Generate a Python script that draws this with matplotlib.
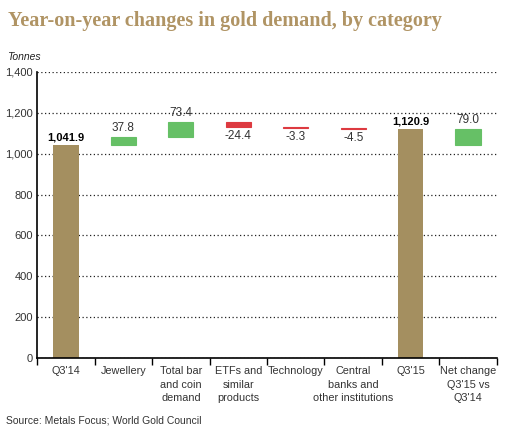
import numpy as np
import matplotlib
matplotlib.use('Agg')
import matplotlib.pyplot as plt

plt.rcParams['font.family'] = ['Liberation Sans', 'DejaVu Sans']

categories = ["Q3'14", "Jewellery", "Total bar\nand coin\ndemand", "ETFs and\nsimilar\nproducts",
              "Technology", "Central\nbanks and\nother institutions", "Q3'15",
              "Net change\nQ3'15 vs\nQ3'14"]
start_total = 1041.9
changes = [37.8, 73.4, -24.4, -3.3, -4.5]
end_total = 1120.9
net_change = 79.0

GOLD = '#a48f60'
GREEN = '#66c066'
RED = '#dd3a40'
TXT = '#333333'

fig = plt.figure(figsize=(5.17, 4.33), dpi=100)
ax = fig.add_axes([0.072, 0.173, 0.889, 0.661])

w = 0.44
# totals
ax.bar(0, start_total, width=w, color=GOLD)
ax.bar(6, end_total, width=w, color=GOLD)
ax.text(0, start_total + 14, f'{start_total:,.1f}', ha='center', va='bottom',
        fontsize=8, fontweight='bold')
ax.text(6, end_total + 14, f'{end_total:,.1f}', ha='center', va='bottom',
        fontsize=8, fontweight='bold')

# floating changes (thin edge gives the small bars a visible thickness)
level = start_total
for i, c in enumerate(changes, start=1):
    col = GREEN if c > 0 else RED
    ax.bar(i, c, bottom=level, width=w, color=col, edgecolor=col, linewidth=0.8)
    top = max(level, level + c)
    bot = min(level, level + c)
    if c > 0:
        ax.text(i, top + 16, f'{c:.1f}', ha='center', va='bottom', fontsize=8.5, color=TXT)
    else:
        ax.text(i, bot - 14, f'{c:.1f}', ha='center', va='top', fontsize=8.5, color=TXT)
    level += c

ax.bar(7, net_change, bottom=start_total, width=w, color=GREEN, edgecolor=GREEN, linewidth=0.8)
ax.text(7, start_total + net_change + 16, f'{net_change:.1f}', ha='center', va='bottom',
        fontsize=8.5, color=TXT)

ax.set_xlim(-0.5, 7.5)
ax.set_ylim(0, 1400)
ax.set_yticks(np.arange(0, 1401, 200))
ax.set_yticklabels([f'{v:,}' for v in range(0, 1401, 200)], fontsize=8, color=TXT)
ax.tick_params(axis='y', length=0, pad=3)
ax.yaxis.grid(True, linestyle=(0, (1, 2)), color='#222222', linewidth=0.9)
ax.set_axisbelow(True)

ax.set_xticks(np.arange(8))
ax.set_xticklabels(categories, fontsize=7.8, color=TXT, linespacing=1.4)
ax.tick_params(axis='x', length=0, pad=6)
ax.set_xticks(np.arange(-0.5, 8, 1), minor=True)
ax.tick_params(axis='x', which='minor', length=5, width=1, direction='out')

for s in ['top', 'right']:
    ax.spines[s].set_visible(False)
ax.spines['left'].set_linewidth(1.2)
ax.spines['bottom'].set_linewidth(1.2)

fig.text(0.015, 0.94, 'Year-on-year changes in gold demand, by category',
         fontsize=14.5, fontweight='bold', color='#b09464', family='Liberation Serif')
fig.text(0.014, 0.862, 'Tonnes', fontsize=7.5, style='italic', color='#222222')
fig.text(0.012, 0.022, 'Source: Metals Focus; World Gold Council', fontsize=7.5, color=TXT)

fig.savefig('out.png', dpi=100)
